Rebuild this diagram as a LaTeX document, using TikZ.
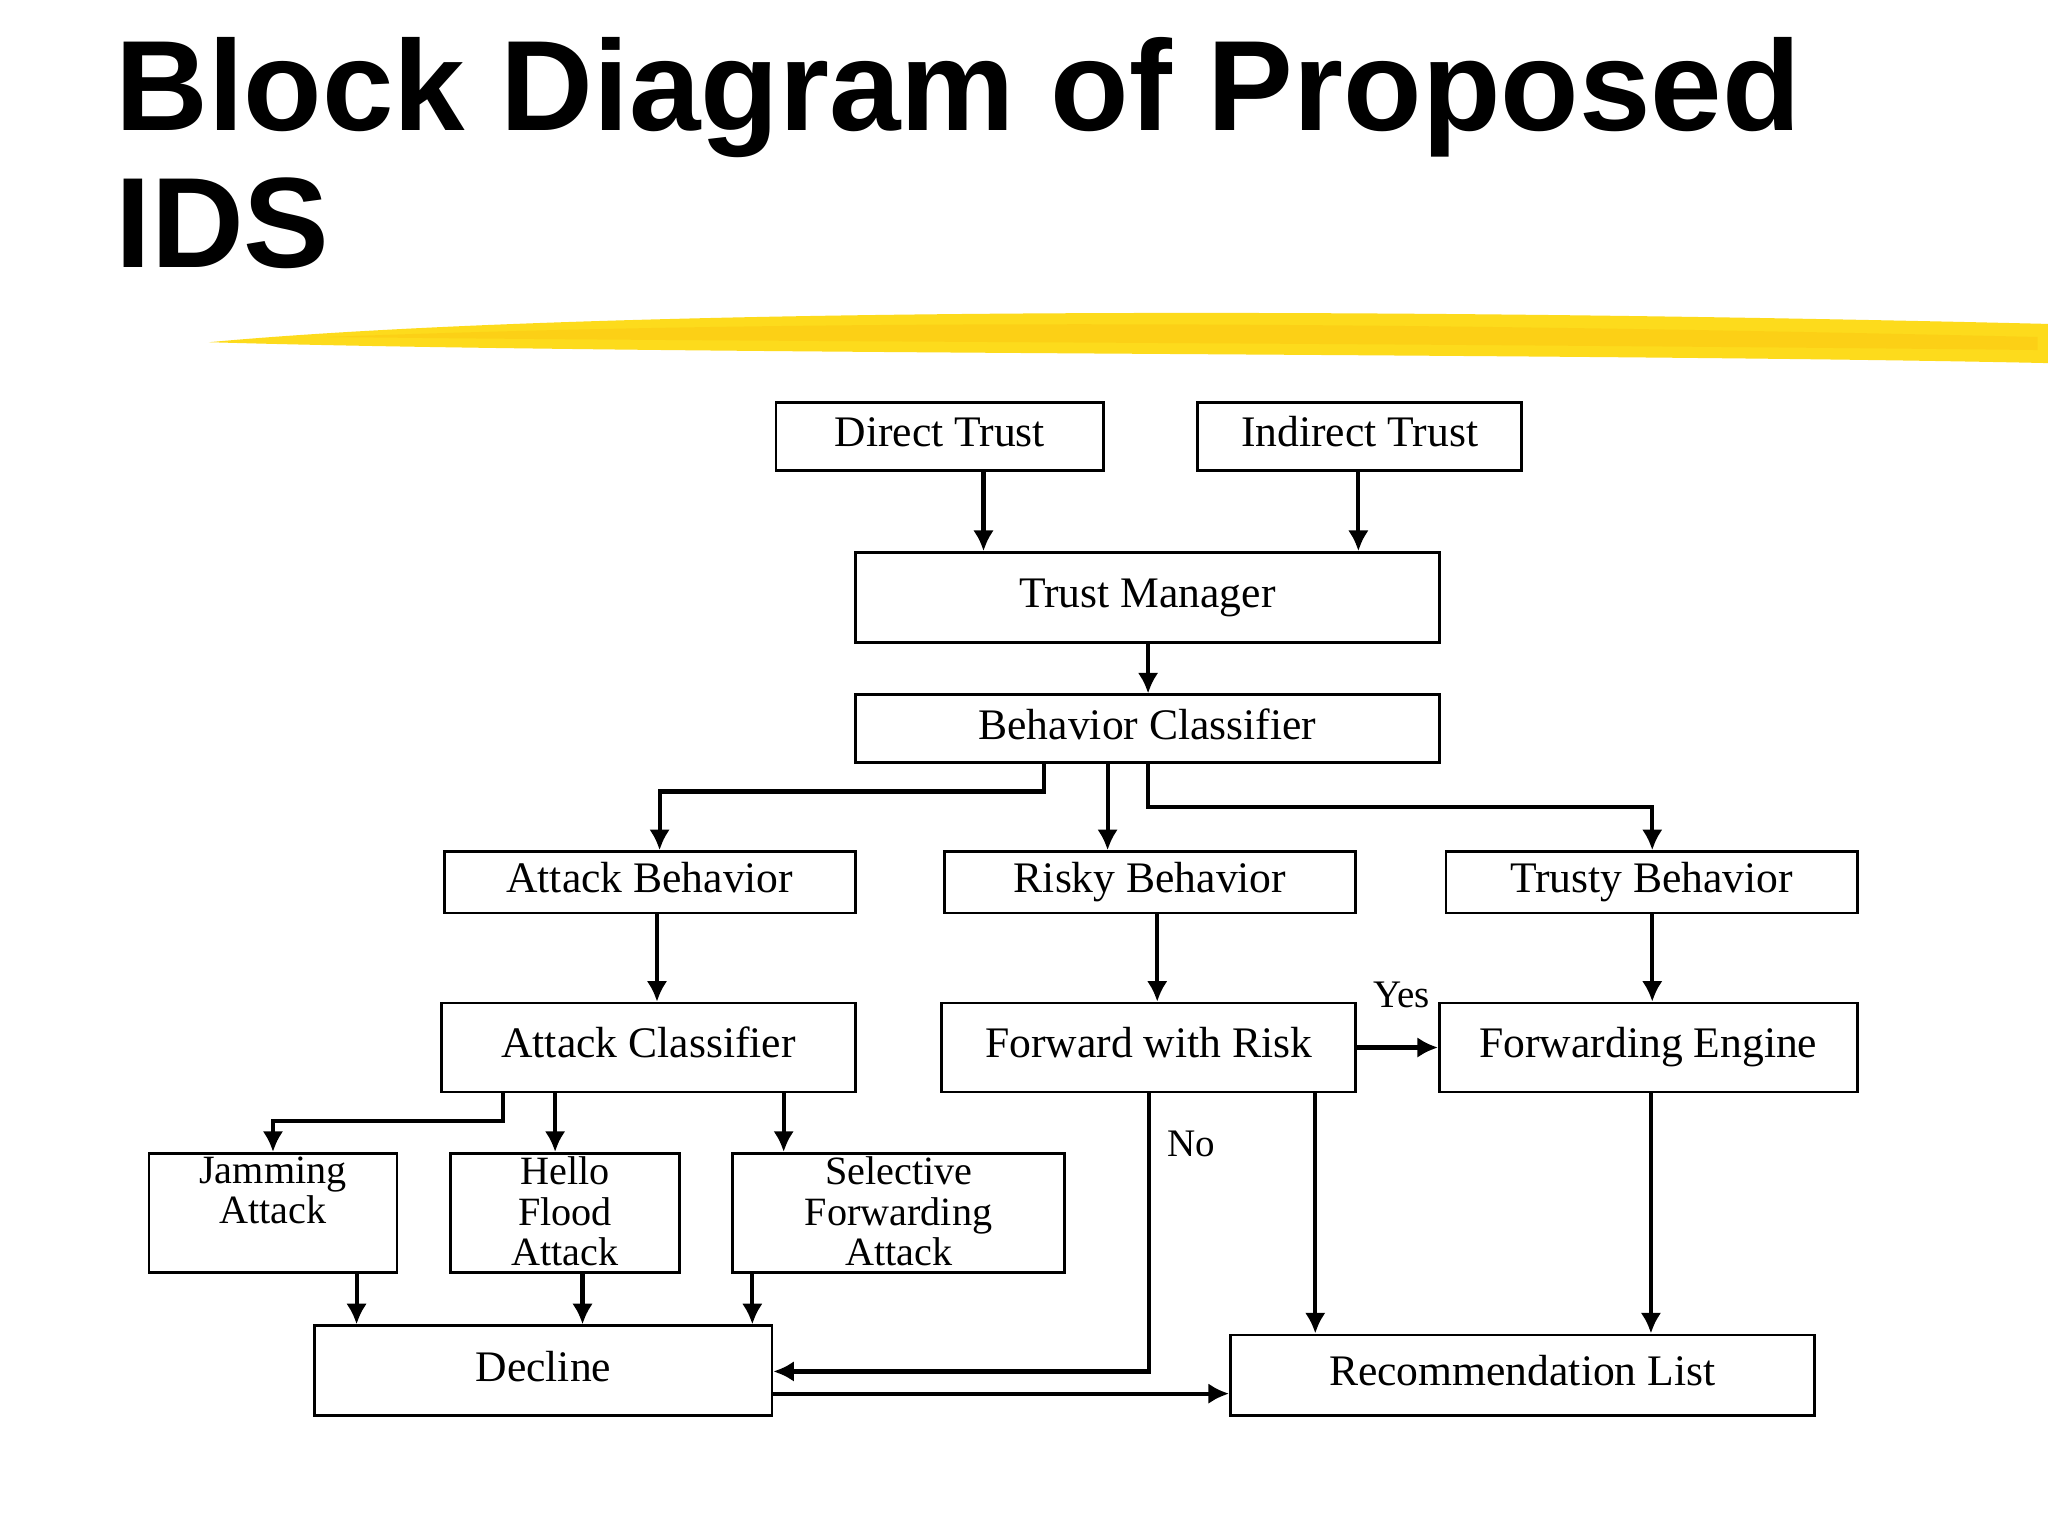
\documentclass[tikz,border=0pt]{standalone}
\usepackage{fontspec}
\setmainfont{Liberation Serif}
\newfontfamily\ttlfont{Liberation Sans}
\usetikzlibrary{arrows.meta}
\begin{document}
\begin{tikzpicture}[x=0.02cm,y=-0.02cm,
  box/.style={draw,line width=1.2pt,rectangle,inner sep=0pt,font=\fontsize{19}{20}\selectfont,text height=13pt,text depth=4pt},
  mbox/.style={draw=none,anchor=north,align=center,inner sep=2pt,font=\fontsize{17.5}{17.5}\selectfont},
  arr/.style={line width=1.8pt,-{Latex[length=9pt,width=9pt]}},
  lbl/.style={font=\fontsize{17}{18}\selectfont}]
\useasboundingbox[fill=white] (0,0) rectangle (1568,1176);
\node[anchor=base west,font=\ttlfont\bfseries\fontsize{56}{60}\selectfont,inner sep=0pt] (t1) at (88,100) {Block Diagram of Proposed};
\node[anchor=base west,font=\ttlfont\bfseries\fontsize{56}{60}\selectfont,inner sep=0pt] (t2) at (88,205) {IDS};
% yellow stroke
\fill[yellow!75!orange!90!white] (160,262) .. controls (400,240) and (900,232) .. (1568,248) -- (1568,278) .. controls (1200,270) and (500,272) .. (160,262) -- cycle;
\fill[yellow!60!orange!95!white,opacity=0.6] (250,258) .. controls (600,245) and (1000,245) .. (1560,258) -- (1560,268) .. controls (1000,262) and (600,262) .. (250,258) -- cycle;

\node[box,minimum width=5.02cm,minimum height=1.04cm] (dt) at (719.5,334) {Direct Trust};
\node[box,minimum width=4.96cm,minimum height=1.04cm] (it) at (1041,334) {Indirect Trust};
\node[box,minimum width=8.94cm,minimum height=1.38cm] (tm) at (878.5,457.5) {Trust Manager};
\node[box,minimum width=8.94cm,minimum height=1.04cm] (bc) at (878.5,558) {Behavior Classifier};
\node[box,minimum width=6.3cm,minimum height=0.94cm] (ab) at (497.5,675.5) {Attack Behavior};
\node[box,minimum width=6.3cm,minimum height=0.94cm] (rb) at (880.5,675.5) {Risky Behavior};
\node[box,minimum width=6.3cm,minimum height=0.94cm] (tb) at (1264.5,675.5) {Trusty Behavior};
\node[box,minimum width=6.34cm,minimum height=1.36cm] (ac) at (496.5,802) {Attack Classifier};
\node[box,minimum width=6.34cm,minimum height=1.36cm] (fr) at (879.5,802) {Forward with Risk};
\node[box,minimum width=6.4cm,minimum height=1.36cm] (fe) at (1262,802) {Forwarding Engine};
\node[box,minimum width=3.8cm,minimum height=1.82cm] (ja) at (209,928.5) {};
\node[mbox] (jat) at (ja.north) {Jamming\\Attack};
\node[box,minimum width=3.5cm,minimum height=1.82cm] (hf) at (432.5,928.5) {};
\node[mbox] (hft) at (hf.north) {Hello\\Flood\\Attack};
\node[box,minimum width=5.08cm,minimum height=1.82cm] (sf) at (688,928.5) {};
\node[mbox] (sft) at (sf.north) {Selective\\Forwarding\\Attack};
\node[box,minimum width=7cm,minimum height=1.38cm] (de) at (416,1049.5) {Decline};
\node[box,minimum width=8.94cm,minimum height=1.24cm] (rl) at (1165.5,1053) {Recommendation List};

\draw[arr] (753,0 |- dt.south) -- (753,0 |- tm.north);
\draw[arr] (1040,0 |- it.south) -- (1040,0 |- tm.north);
\draw[arr] (879,0 |- tm.south) -- (879,0 |- bc.north);
\draw[arr] (799,0 |- bc.south) -- (799,606) -- (505,606) -- (505,0 |- ab.north);
\draw[arr] (848,0 |- bc.south) -- (848,0 |- rb.north);
\draw[arr] (879,0 |- bc.south) -- (879,618) -- (1265,618) -- (1265,0 |- tb.north);
\draw[arr] (503,0 |- ab.south) -- (503,0 |- ac.north);
\draw[arr] (886,0 |- rb.south) -- (886,0 |- fr.north);
\draw[arr] (1265,0 |- tb.south) -- (1265,0 |- fe.north);
\draw[arr] (fr.east) -- (fe.west);
\node[lbl] (yes) at (1073,762) {Yes};
\draw[arr] (385,0 |- ac.south) -- (385,858) -- (209,858) -- (209,0 |- ja.north);
\draw[arr] (425,0 |- ac.south) -- (425,0 |- hf.north);
\draw[arr] (600,0 |- ac.south) -- (600,0 |- sf.north);
\draw[arr] (273,0 |- ja.south) -- (273,0 |- de.north);
\draw[arr] (446,0 |- hf.south) -- (446,0 |- de.north);
\draw[arr] (576,0 |- sf.south) -- (576,0 |- de.north);
\draw[arr] (880,0 |- fr.south) -- (880,1050) -- (de.east |- 0,1050);
\node[lbl] (no) at (912,876) {No};
\draw[arr] (1007,0 |- fr.south) -- (1007,0 |- rl.north);
\draw[arr] (1264,0 |- fe.south) -- (1264,0 |- rl.north);
\draw[arr] (de.east |- 0,1067) -- (rl.west |- 0,1067);
\end{tikzpicture}
\end{document}
